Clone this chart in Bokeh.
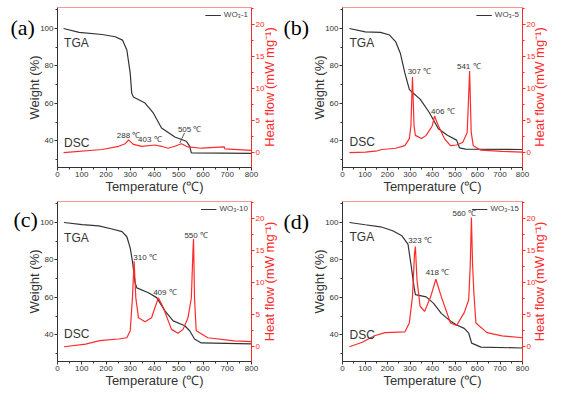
import math
from bokeh.plotting import figure
from bokeh.models import Range1d, LinearAxis, SingleIntervalTicker, Label, Span, Legend, LegendItem, ColumnDataSource
from bokeh.layouts import gridplot
from bokeh.embed import file_html
from bokeh.resources import INLINE
from bokeh.core.properties import value

FONT = "Liberation Sans"

a_tga_t = [25, 89, 184, 238, 268, 286, 300, 306, 313, 361, 395, 429, 484, 531, 545, 552, 800]
a_tga_w = [100, 97.9, 96.8, 95.6, 93.8, 88.5, 76, 65.5, 63.4, 60.2, 54.9, 46.9, 42.1, 39.8, 37.2, 33.6, 33.3]
a_dsc_t = [25, 184, 252, 279, 293, 313, 347, 402, 429, 456, 484, 511, 538, 593, 688, 690, 800]
a_dsc_h = [0, 0.5, 1.0, 1.4, 2.0, 1.3, 1.0, 1.2, 1.0, 0.7, 1.0, 1.4, 0.9, 0.7, 0.9, 0.6, 0.35]
a_peaks = ["288 ℃", "403 ℃", "505 ℃"]
a_peak_t = [293, 381, 545]
a_peak_h = [2.7, 2.0, 3.6]

b_tga_t = [31, 101, 169, 209, 236, 257, 277, 297, 311, 345, 385, 426, 466, 507, 520, 547, 800]
b_tga_w = [100, 98.2, 97.9, 96.5, 93, 86.8, 76.3, 67.5, 65.8, 62.3, 55.3, 46.5, 43, 40.4, 36.3, 35.6, 35.4]
b_dsc_t = [31, 101, 155, 176, 236, 277, 297, 304, 311, 318, 324, 351, 372, 399, 409, 426, 453, 480,
           507, 534, 554, 558, 565, 572, 581, 615, 709, 800]
b_dsc_h = [0, 0.1, 0.3, 0.5, 0.7, 1.1, 2.2, 4.2, 11.8, 4.2, 2.7, 2.2, 2.7, 4.2, 5.7, 4.2, 2.2, 1.1,
           1.2, 1.6, 3.1, 6.5, 12.7, 3.2, 1.1, 0.4, 0.2, 0.1]
b_peaks = ["307 ℃", "406 ℃", "541 ℃"]
b_peak_t = [342, 446, 561]
b_peak_h = [12.7, 6.4, 13.4]

c_tga_t = [27, 102, 170, 225, 266, 286, 300, 309, 320, 327, 375, 409, 443, 477, 525, 545, 565, 593, 800]
c_tga_w = [100, 98.9, 98.2, 96.5, 95.1, 92.4, 86.3, 79.2, 67.8, 65.1, 62.5, 59.9, 52.8, 47.5, 44.9, 42.2, 37.8, 35.7, 35.2]
c_dsc_t = [27, 116, 170, 184, 252, 286, 300, 309, 316, 323, 334, 361, 388, 402, 416, 436, 470, 497,
           518, 538, 552, 559, 561, 565, 572, 620, 729, 800]
c_dsc_h = [0, 0.4, 0.9, 1.0, 1.2, 1.4, 2.5, 7.6, 13.3, 7.6, 4.5, 3.9, 4.5, 6.1, 7.6, 6.1, 2.7, 2.1,
           2.7, 4.5, 7.6, 15.4, 16.8, 7.6, 2.5, 1.4, 0.9, 0.8]
c_peaks = ["310 ℃", "409 ℃", "550 ℃"]
c_peak_t = [361, 443, 572]
c_peak_h = [13.9, 8.4, 17.3]

d_tga_t = [31, 101, 169, 223, 264, 291, 304, 318, 324, 372, 405, 439, 473, 507, 541, 561, 574, 615, 800]
d_tga_w = [100, 98.8, 97.7, 95.6, 92.9, 88.5, 77.9, 65.6, 61.5, 60.3, 56.8, 51.5, 48, 45.3, 43.5, 40.9, 35.6, 33.5, 33]
d_dsc_t = [31, 88, 142, 189, 277, 297, 311, 320, 324, 331, 345, 365, 392, 415, 439, 480, 507, 541,
           561, 568, 573, 578, 584, 593, 642, 709, 800]
d_dsc_h = [0, 0.7, 1.7, 2.2, 2.3, 3.7, 7.8, 14.5, 15.6, 10.4, 6.3, 5.5, 7.8, 10.5, 7.8, 3.7, 3.3, 5.3,
           7.3, 12.9, 20.1, 12.9, 8.3, 3.7, 2.2, 1.7, 1.4]
d_peaks = ["323 ℃", "418 ℃", "560 ℃"]
d_peak_t = [345, 422, 541]
d_peak_h = [16.5, 11.5, 20.8]

names = ["WO₃-1", "WO₃-5", "WO₃-10", "WO₃-15"]
tags = ["(a)", "(b)", "(c)", "(d)"]
tga_label_t = [27, 31, 27, 31]
tga_label_w = [92, 92, 91.5, 92.4]
dsc_label_w = [39, 39.5, 40.7, 40]

X_RANGE = (0, 800)
W_RANGE = (25.8, 111.2)
H_RANGE = (-2.3, 22.6)

RED = "#ff2a2a"
BLACK = "#333333"


def style_axis(ax, color):
    ax.axis_line_color = color
    ax.major_tick_line_color = color
    ax.minor_tick_line_color = color
    ax.major_tick_out = 3
    ax.major_tick_in = 0
    ax.minor_tick_out = 2
    ax.minor_tick_in = 0
    ax.major_label_text_font = FONT
    ax.major_label_text_font_size = "8px"
    ax.major_label_text_color = color
    ax.major_label_standoff = 1
    ax.axis_label_text_font = FONT
    ax.axis_label_text_font_size = "13px"
    ax.axis_label_text_font_style = "normal"
    ax.axis_label_text_color = color


def make_panel(i, tga_t, tga_w, dsc_t, dsc_h, pk_txt, pk_t, pk_h, width, height, bl, br, bt, bb,
               tag_x, tag_dy, rlab_x, leader=None):
    p = figure(width=width, height=height, output_backend="svg", toolbar_location=None,
               x_range=Range1d(*X_RANGE), y_range=Range1d(*W_RANGE),
               min_border_left=bl, min_border_right=br, min_border_top=bt, min_border_bottom=bb)
    p.grid.visible = False
    p.outline_line_color = None
    p.extra_y_ranges = {"hf": Range1d(*H_RANGE)}

    p.xaxis.ticker = SingleIntervalTicker(interval=100, num_minor_ticks=2)
    p.yaxis.ticker = SingleIntervalTicker(interval=20, num_minor_ticks=2)
    p.xaxis.axis_label = "Temperature (℃)"
    p.yaxis.axis_label = "Weight (%)"
    style_axis(p.xaxis[0], BLACK)
    style_axis(p.yaxis[0], BLACK)
    p.xaxis.axis_label_standoff = -1
    p.yaxis.axis_label_standoff = -5

    ra = LinearAxis(y_range_name="hf", ticker=SingleIntervalTicker(interval=5, num_minor_ticks=2))
    style_axis(ra, RED)
    p.add_layout(ra, "right")

    p.add_layout(Span(location=W_RANGE[1], dimension="width", line_color=RED, line_width=1.2))

    tga = p.line(tga_t, tga_w, line_color=BLACK, line_width=1.2)
    p.line(dsc_t, dsc_h, line_color=RED, line_width=1.2, y_range_name="hf")

    src = ColumnDataSource(dict(x=pk_t, y=pk_h, t=pk_txt))
    p.text(x="x", y="y", text="t", source=src, y_range_name="hf",
           text_font=value(FONT), text_font_size="8px", text_color=BLACK,
           text_align="center", text_baseline="middle")
    if leader is not None:
        p.line(leader[0], leader[1], line_color=BLACK, line_width=0.8, y_range_name="hf")

    p.text(x=[tga_label_t[i], tga_label_t[i]], y=[tga_label_w[i], dsc_label_w[i]], text=["TGA", "DSC"],
           text_font=value(FONT), text_font_size="12px", text_color=BLACK,
           text_align="left", text_baseline="middle")

    leg = Legend(items=[LegendItem(label=names[i], renderers=[tga])], location="top_right",
                 margin=3, padding=2, spacing=0, glyph_width=16, glyph_height=8, label_height=8,
                 label_standoff=3, label_text_font=FONT, label_text_font_size="8px",
                 background_fill_alpha=0, border_line_color=None)
    p.add_layout(leg)

    frame_h = height - bt - bb
    y100 = frame_h - (W_RANGE[1] - 100) / (W_RANGE[1] - W_RANGE[0]) * frame_h
    p.add_layout(Label(x=tag_x, y=y100 + tag_dy, x_units="screen", y_units="screen", text=tags[i],
                       text_font="Liberation Serif", text_font_size="22px", text_color="black",
                       text_baseline="middle", text_align="left"), "left")
    p.add_layout(Label(x=rlab_x, y=frame_h / 2, x_units="screen", y_units="screen",
                       text="Heat flow (mW mg⁻¹)", angle=math.pi / 2,
                       text_font=FONT, text_font_size="13px", text_color=RED,
                       text_baseline="middle", text_align="center"), "right")
    return p


pa = make_panel(0, a_tga_t, a_tga_w, a_dsc_t, a_dsc_h, a_peaks, a_peak_t, a_peak_h,
                283, 196, 55, 32, 7, 28, 10, 0, 2, leader=([524, 504], [3.1, 1.5]))
pb = make_panel(1, b_tga_t, b_tga_w, b_dsc_t, b_dsc_h, b_peaks, b_peak_t, b_peak_h,
                283, 196, 42, 44, 7, 28, 0, 0, 1)
pc = make_panel(2, c_tga_t, c_tga_w, c_dsc_t, c_dsc_h, c_peaks, c_peak_t, c_peak_h,
                283, 197, 55, 32, 5, 32, 13, 3, 2)
pd = make_panel(3, d_tga_t, d_tga_w, d_dsc_t, d_dsc_h, d_peaks, d_peak_t, d_peak_h,
                283, 197, 42, 44, 5, 32, 0, 1, 1)

grid = gridplot([[pa, pb], [pc, pd]], toolbar_location=None)
open("out.html", "w").write(file_html(grid, INLINE))
